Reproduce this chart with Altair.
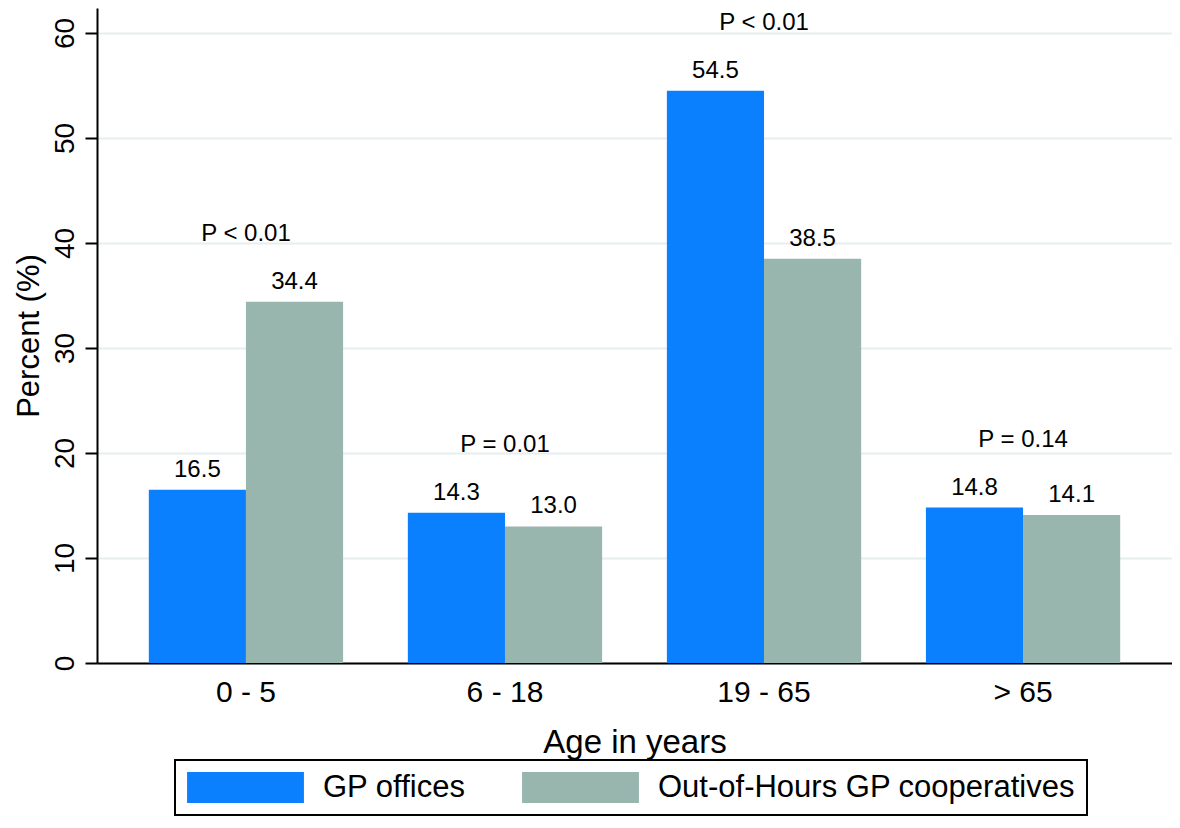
import altair as alt
import pandas as pd

# ---- data ----
age_groups = ["0 - 5", "6 - 18", "19 - 65", "> 65"]
gp_offices = [16.5, 14.3, 54.5, 14.8]
ooh_coops = [34.4, 13.0, 38.5, 14.1]
p_values = ["P < 0.01", "P = 0.01", "P < 0.01", "P = 0.14"]
series_names = ["GP offices", "Out-of-Hours GP cooperatives"]
series_colors = ["#0A80FF", "#98B5AE"]
y_ticks = [0, 10, 20, 30, 40, 50, 60]

rows = []
for a, g, o in zip(age_groups, gp_offices, ooh_coops):
    rows.append({"age": a, "series": series_names[0], "value": g})
    rows.append({"age": a, "series": series_names[1], "value": o})
df = pd.DataFrame(rows)

pdf = pd.DataFrame({
    "age": age_groups,
    "ptext": p_values,
    "top": [max(g, o) for g, o in zip(gp_offices, ooh_coops)],
})

FONT = "Liberation Sans"

x_enc = alt.X(
    "age:N",
    sort=age_groups,
    scale=alt.Scale(paddingInner=0.25, paddingOuter=0.2),
    axis=alt.Axis(
        title="Age in years",
        labelAngle=0,
        labelFontSize=30,
        labelPadding=14,
        ticks=False,
        titleFontSize=33,
        titlePadding=19,
        grid=False,
    ),
)
y_scale = alt.Scale(domain=[0, 62.38], nice=False, zero=True)

bars = alt.Chart(df).mark_bar().encode(
    x=x_enc,
    xOffset=alt.XOffset("series:N", sort=series_names,
                        scale=alt.Scale(paddingInner=0, paddingOuter=0)),
    y=alt.Y(
        "value:Q",
        scale=y_scale,
        axis=alt.Axis(
            title="Percent (%)",
            values=y_ticks,
            labelAngle=270,
            labelAlign="center",
            labelBaseline="bottom",
            labelFontSize=28,
            labelPadding=6,
            tickSize=12,
            tickWidth=2,
            tickColor="black",
            titleFontSize=31,
            titlePadding=6,
            grid=True,
            gridColor="#E6EEF0",
            gridWidth=2,
        ),
    ),
    color=alt.Color(
        "series:N",
        scale=alt.Scale(domain=series_names, range=series_colors),
        legend=alt.Legend(
            title=None,
            orient="none",
            legendX=78,
            legendY=752,
            direction="horizontal",
            strokeColor="black",
            padding=12,
            columnPadding=56,
            labelOffset=62,
            labelFontSize=31,
            labelFont=FONT,
            labelColor="black",
            labelLimit=0,
            symbolType="M-3.77,-1H3.77V1H-3.77Z",
            symbolSize=961,
            symbolOffset=43,
            symbolStrokeWidth=0,
            symbolOpacity=1,
        ),
    ),
)

value_labels = alt.Chart(df).mark_text(
    baseline="alphabetic", dy=-13, fontSize=24, font=FONT, color="black"
).encode(
    x=alt.X("age:N", sort=age_groups),
    xOffset=alt.XOffset("series:N", sort=series_names),
    y=alt.Y("value:Q", scale=y_scale),
    text=alt.Text("value:Q", format=".1f"),
)

p_labels = alt.Chart(pdf).mark_text(
    baseline="alphabetic", dy=-61, fontSize=24, font=FONT, color="black"
).encode(
    x=alt.X("age:N", sort=age_groups),
    y=alt.Y("top:Q", scale=y_scale),
    text="ptext:N",
)

chart = (
    alt.layer(bars, value_labels, p_labels)
    .properties(
        width=1075,
        height=655,
        autosize=alt.AutoSizeParams(type="none"),
        padding={"left": 89, "top": 0, "right": 0, "bottom": 154},
        background="white",
    )
    .configure_view(stroke=None)
    .configure_axis(
        domainColor="black",
        domainWidth=2,
        labelColor="black",
        titleColor="black",
        labelFont=FONT,
        titleFont=FONT,
        titleFontWeight="normal",
    )
    .configure_legend(strokeWidth=2)
    .configure_text(font=FONT)
)

chart.save("out.html", embed_options={"renderer": "svg", "actions": False})
